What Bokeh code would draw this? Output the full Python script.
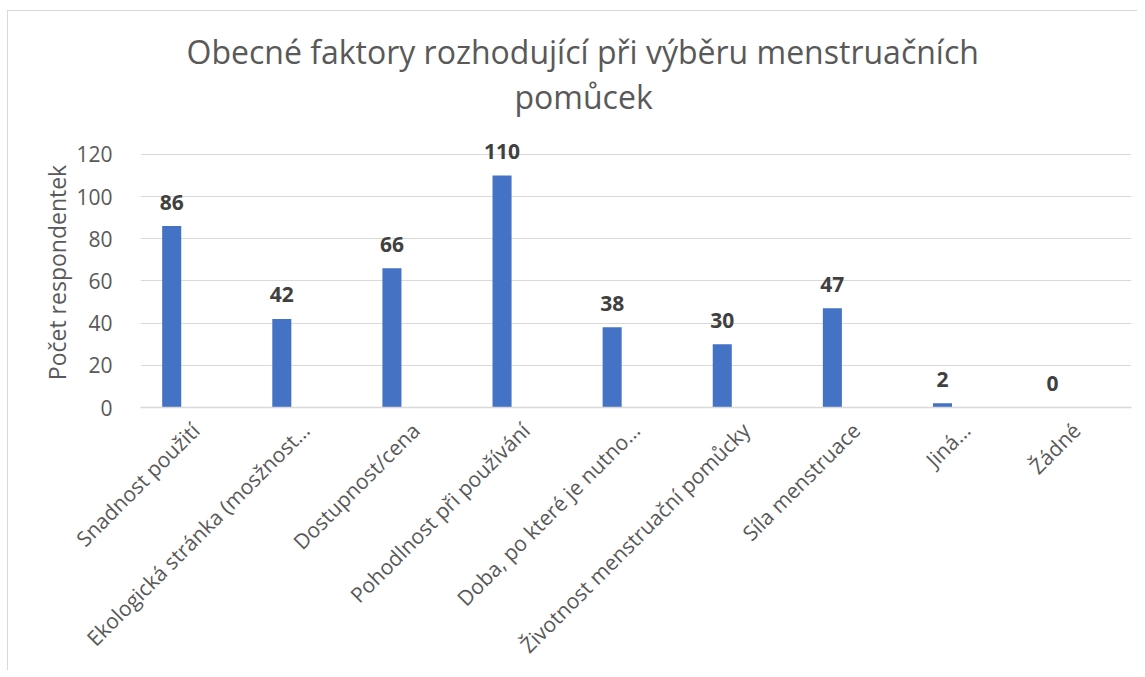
import math
from bokeh.plotting import figure
from bokeh.models import ColumnDataSource, LabelSet, FixedTicker, Range1d, Title
from bokeh.transform import dodge
from bokeh.core.properties import value
from bokeh.embed import file_html
from bokeh.resources import INLINE

# ---- data ----
categories = [
    "Snadnost použití",
    "Ekologická stránka (mosžnost…",
    "Dostupnost/cena",
    "Pohodlnost při používání",
    "Doba, po které je nutno…",
    "Životnost menstruační pomůcky",
    "Síla menstruace",
    "Jiná…",
    "Žádné",
]
counts = [86, 42, 66, 110, 38, 30, 47, 2, 0]
y_ticks = [0, 20, 40, 60, 80, 100, 120]
title_line1 = "Obecné faktory rozhodující při výběru menstruačních"
title_line2 = "pomůcek"
y_title = "Počet respondentek"

FONT = "Open Sans"
GREY = "#595959"

idx = list(range(len(categories)))
src = ColumnDataSource(dict(x=idx, y=counts, lbl=[str(v) for v in counts]))

p = figure(
    width=1130, height=660,
    x_range=Range1d(-0.5, len(categories) - 0.5),
    y_range=Range1d(0, 128),
    output_backend="svg", toolbar_location=None,
    min_border_left=132, min_border_right=7,
    min_border_top=126, min_border_bottom=264,
)
p.styles = {"margin-left": "8px", "margin-top": "11px",
            "box-shadow": "-1px -1px 0 0 #d9d9d9"}
p.outline_line_color = None
p.background_fill_color = "white"
p.border_fill_color = "white"

p.vbar(x=dodge("x", -0.2166), top="y", width=0.173, source=src,
       fill_color="#4472c4", line_color=None)

labels = LabelSet(x=dodge("x", -0.2166), y="y", text="lbl", source=src,
                  y_offset=24, text_align="center", text_baseline="middle",
                  text_font=value(FONT), text_font_size="21px", text_font_style="bold",
                  text_color="#404040")
p.add_layout(labels)

# axes
p.yaxis.ticker = FixedTicker(ticks=y_ticks)
p.yaxis.axis_line_color = None
p.yaxis.major_tick_line_color = None
p.yaxis.minor_tick_line_color = None
p.yaxis.major_label_text_font = FONT
p.yaxis.major_label_text_font_size = "21px"
p.yaxis.major_label_text_color = GREY
p.yaxis.major_label_standoff = 22
p.yaxis.axis_label = y_title
p.yaxis.axis_label_text_font = FONT
p.yaxis.axis_label_text_font_size = "23px"
p.yaxis.axis_label_text_font_style = "normal"
p.yaxis.axis_label_text_color = GREY
p.yaxis.axis_label_standoff = 0

p.xaxis.ticker = FixedTicker(ticks=idx)
p.xaxis.major_label_overrides = {i: c for i, c in zip(idx, categories)}
p.xaxis.major_label_orientation = math.pi / 4
p.xaxis.axis_line_color = "#d9d9d9"
p.xaxis.axis_line_width = 1.5
p.xaxis.major_tick_line_color = None
p.xaxis.minor_tick_line_color = None
p.xaxis.major_label_text_font = FONT
p.xaxis.major_label_text_font_size = "21px"
p.xaxis.major_label_text_color = GREY
p.xaxis.major_label_standoff = 13

p.xgrid.grid_line_color = None
p.ygrid.grid_line_color = "#d9d9d9"
p.ygrid.grid_line_width = 1

# title (two lines); first added sits closest to the plot
p.add_layout(Title(text=" ", text_font_size="1px", standoff=17), "above")
p.add_layout(Title(text=title_line2, align="left", offset=374,
                   text_font=FONT, text_font_size="32px", text_font_style="normal",
                   text_color=GREY, standoff=0), "above")
p.add_layout(Title(text=title_line1, align="left", offset=46,
                   text_font=FONT, text_font_size="32px", text_font_style="normal",
                   text_color=GREY, standoff=0), "above")

open("out.html", "w").write(file_html(p, INLINE))
